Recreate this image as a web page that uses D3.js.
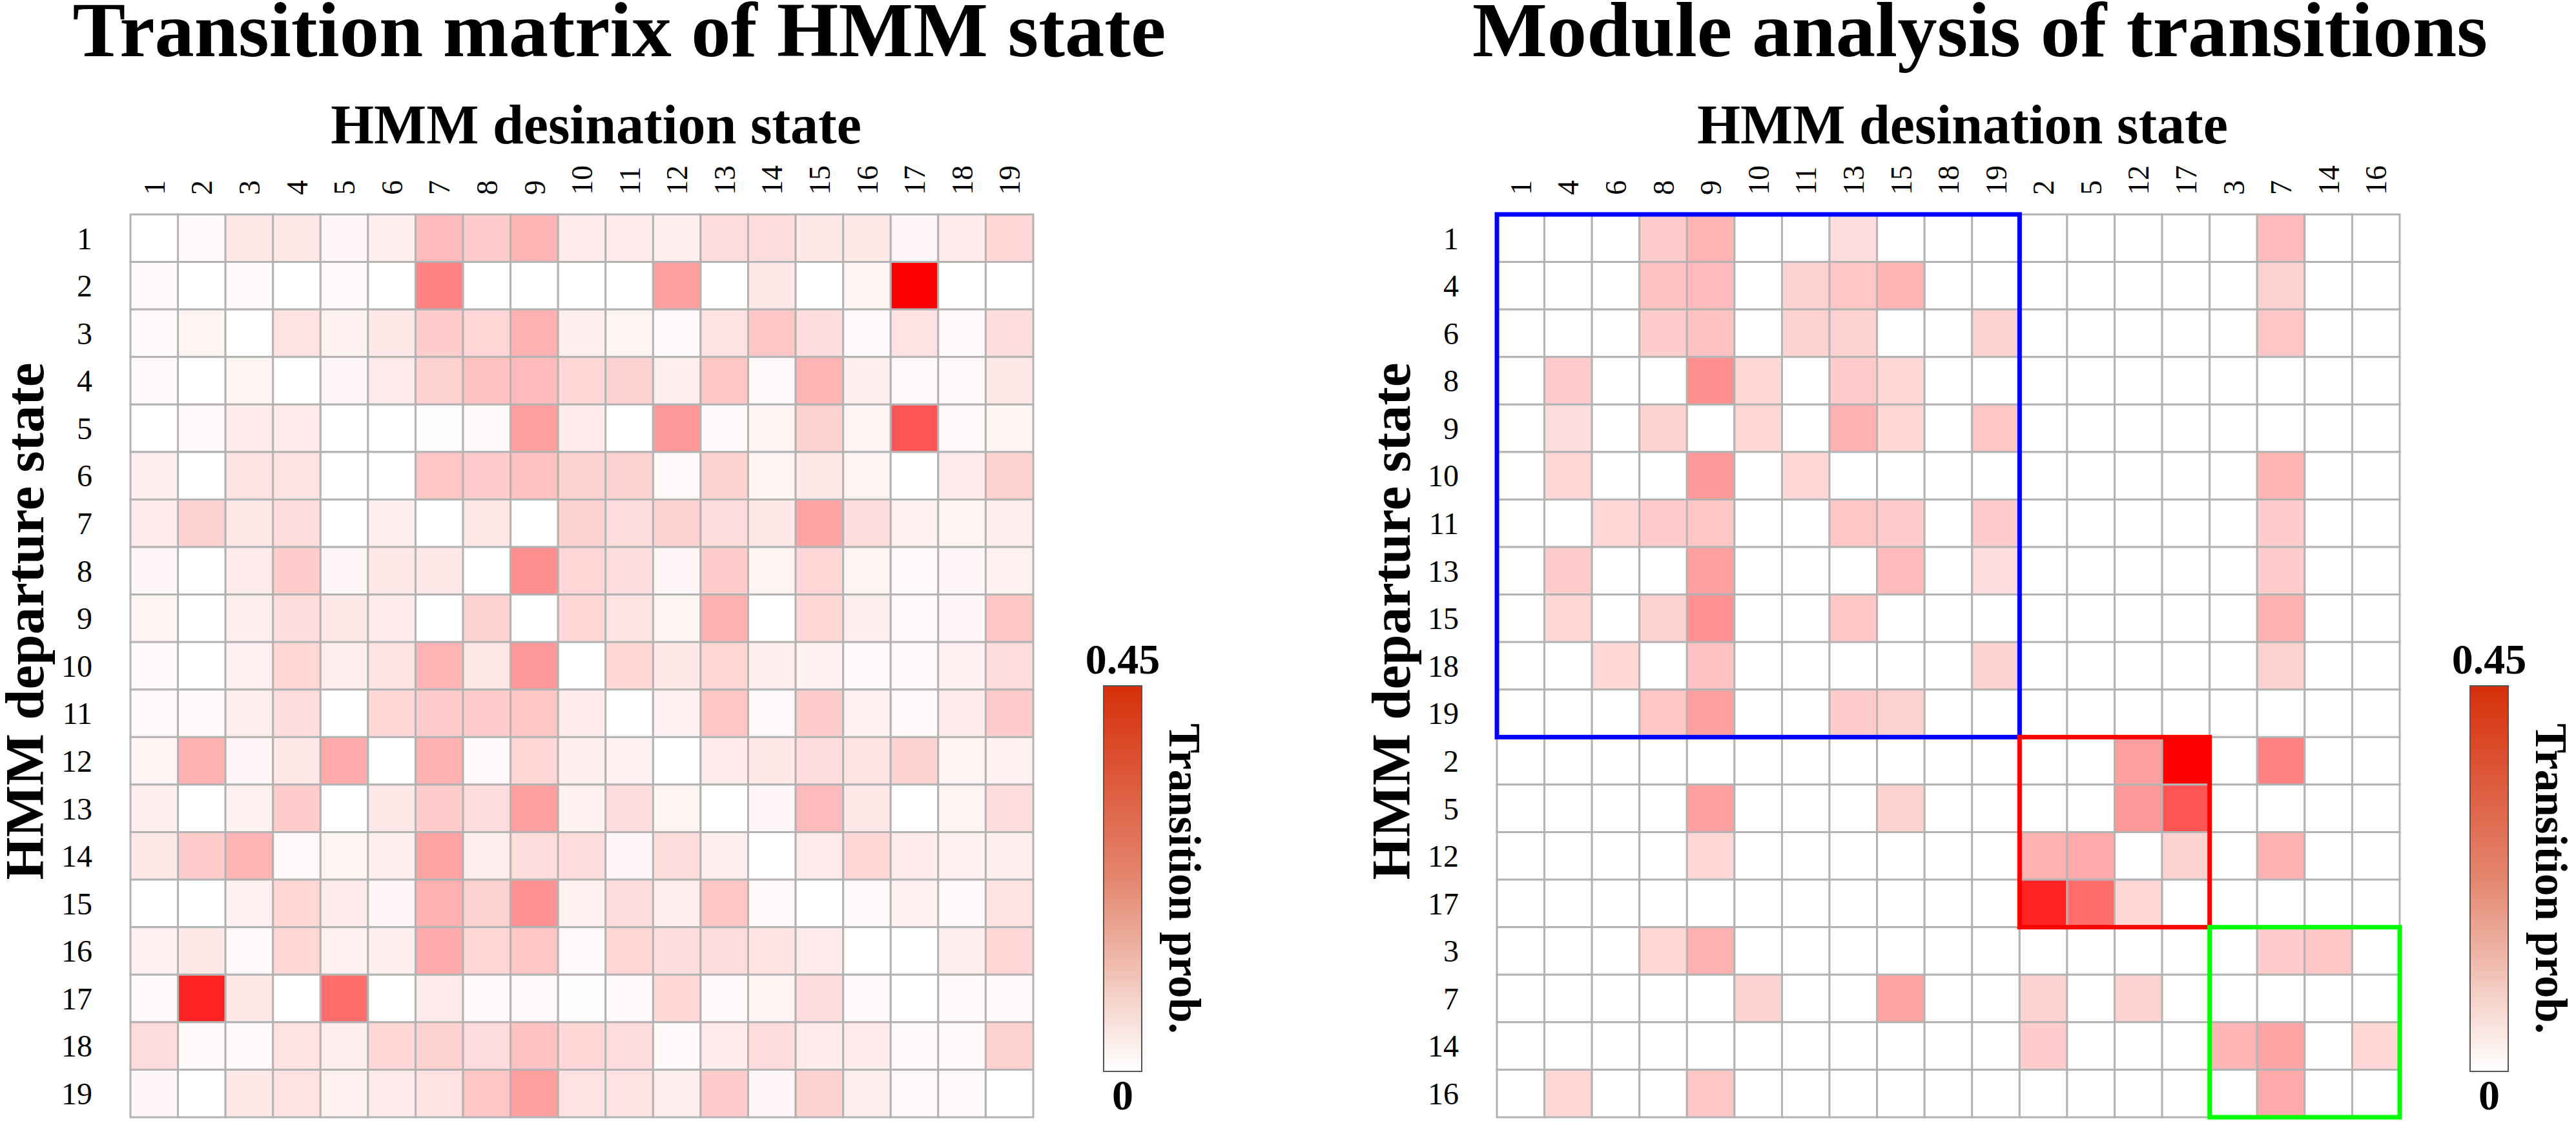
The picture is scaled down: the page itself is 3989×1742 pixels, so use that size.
<!DOCTYPE html>
<html>
<head>
<meta charset="utf-8">
<title>HMM transitions</title>
<script src="https://cdn.jsdelivr.net/npm/d3@7"></script>
<style>
  body { margin: 0; background: #fff; }
  svg { display: block; }
  .title, .axis-title, .cbar-label { font-family: "Liberation Serif", "Times New Roman", serif; font-weight: bold; }
  .tick-label { font-family: "Liberation Serif", "Times New Roman", serif; }
</style>
</head>
<body>
<div id="chart"></div>
<script>

// ---- data ----
var states = ["1","2","3","4","5","6","7","8","9","10","11","12","13","14","15","16","17","18","19"];

// rows = departure state, cols = destination state (states order)
var transProb = [
  [0, .01, .04, .04, .015, .03, .12, .09, .13, .035, .035, .03, .06, .06, .04, .04, .015, .035, .07],
  [.01, 0, .01, 0, .01, 0, .22, 0, 0, 0, 0, .17, 0, .04, 0, .02, .45, 0, 0],
  [.01, .02, 0, .05, .025, .04, .09, .07, .14, .03, .02, .01, .05, .10, .06, .01, .05, .01, .06],
  [.01, 0, .02, 0, .015, .035, .08, .11, .12, .07, .08, .03, .10, .01, .13, .03, .01, .01, .04],
  [0, .01, .035, .035, 0, 0, .005, .01, .17, .035, 0, .18, .01, .02, .08, .02, .30, .01, .02],
  [.03, 0, .05, .05, 0, 0, .10, .09, .11, .08, .08, .01, .08, .02, .04, .02, 0, .035, .08],
  [.035, .08, .04, .06, 0, .03, 0, .04, 0, .08, .06, .08, .06, .04, .16, .06, .025, .02, .03],
  [.015, 0, .035, .09, .015, .04, .04, 0, .20, .07, .06, .015, .09, .02, .07, .02, .01, .015, .025],
  [.02, 0, .03, .06, .04, .035, 0, .08, 0, .07, .05, .02, .14, 0, .07, .03, .01, .015, .10],
  [.01, 0, .025, .07, .03, .05, .13, .04, .18, 0, .07, .04, .07, .03, .025, .01, .01, .025, .06],
  [.01, .01, .03, .06, 0, .07, .09, .09, .10, .035, 0, .025, .10, .01, .09, .025, .01, .035, .09],
  [.02, .14, .015, .04, .15, 0, .14, .01, .07, .03, .025, 0, .035, .04, .06, .05, .08, .02, .025],
  [.03, 0, .025, .09, 0, .04, .09, .06, .17, .025, .06, .02, 0, .015, .12, .04, 0, .02, .06],
  [.04, .09, .13, .01, .02, .03, .16, .03, .06, .06, .015, .06, .03, 0, .035, .07, .035, .025, .03],
  [0, 0, .025, .07, .035, .015, .14, .08, .19, .025, .06, .03, .10, .01, 0, .01, .025, .01, .05],
  [.025, .04, .01, .07, .025, .03, .15, .07, .10, .01, .07, .06, .06, .05, .035, 0, 0, .03, .07],
  [.01, .39, .04, 0, .26, 0, .035, .01, .01, .005, .01, .07, .01, .02, .06, .01, 0, .01, .01],
  [.06, .01, .01, .05, .03, .07, .08, .06, .11, .07, .06, .01, .035, .06, .035, .035, .01, .01, .08],
  [.015, 0, .04, .05, .025, .035, .05, .10, .17, .05, .05, .03, .09, .015, .08, .03, .01, .01, 0]
];

// module analysis: states regrouped, only the retained transitions
var moduleOrder = ["1","4","6","8","9","10","11","13","15","18","19","2","5","12","17","3","7","14","16"];
var moduleGroups = [
  ["1","4","6","8","9","10","11","13","15","18","19"],
  ["2","5","12","17"],
  ["3","7","14","16"]
];
// rows / cols in moduleOrder
var moduleProb = [
  [0, 0, 0, .09, .13, 0, 0, .06, 0, 0, 0,   0, 0, 0, 0,        0, .12, 0, 0],
  [0, 0, 0, .11, .12, 0, .08, .10, .13, 0, 0,   0, 0, 0, 0,    0, .08, 0, 0],
  [0, 0, 0, .09, .11, 0, .08, .08, 0, 0, .08,   0, 0, 0, 0,    0, .10, 0, 0],
  [0, .09, 0, 0, .20, .07, 0, .09, .07, 0, 0,   0, 0, 0, 0,    0, 0, 0, 0],
  [0, .06, 0, .08, 0, .07, 0, .14, .07, 0, .10, 0, 0, 0, 0,    0, 0, 0, 0],
  [0, .07, 0, 0, .18, 0, .07, 0, 0, 0, 0,       0, 0, 0, 0,    0, .13, 0, 0],
  [0, 0, .07, .09, .10, 0, 0, .10, .09, 0, .09, 0, 0, 0, 0,    0, .09, 0, 0],
  [0, .09, 0, 0, .17, 0, 0, 0, .12, 0, .06,     0, 0, 0, 0,    0, .09, 0, 0],
  [0, .07, 0, .08, .19, 0, 0, .10, 0, 0, 0,     0, 0, 0, 0,    0, .14, 0, 0],
  [0, 0, .07, 0, .11, 0, 0, 0, 0, 0, .08,       0, 0, 0, 0,    0, .08, 0, 0],
  [0, 0, 0, .10, .17, 0, 0, .09, .08, 0, 0,     0, 0, 0, 0,    0, 0, 0, 0],
  [0, 0, 0, 0, 0, 0, 0, 0, 0, 0, 0,             0, 0, .17, .45, 0, .22, 0, 0],
  [0, 0, 0, 0, .17, 0, 0, 0, .08, 0, 0,         0, 0, .18, .30, 0, 0, 0, 0],
  [0, 0, 0, 0, .07, 0, 0, 0, 0, 0, 0,           .14, .15, 0, .08, 0, .14, 0, 0],
  [0, 0, 0, 0, 0, 0, 0, 0, 0, 0, 0,             .39, .26, .07, 0, 0, 0, 0, 0],
  [0, 0, 0, .07, .14, 0, 0, 0, 0, 0, 0,         0, 0, 0, 0,    0, .09, .10, 0],
  [0, 0, 0, 0, 0, .08, 0, 0, .16, 0, 0,         .08, 0, .08, 0, 0, 0, 0, 0],
  [0, 0, 0, 0, 0, 0, 0, 0, 0, 0, 0,             .09, 0, 0, 0,  .13, .16, 0, .07],
  [0, .07, 0, 0, .10, 0, 0, 0, 0, 0, 0,         0, 0, 0, 0,    0, .15, 0, 0]
];

var probDomain = [0, 0.45];
var cbarTicks = [0, 0.45];

// ---- layout / style ----
var WIDTH = 3989, HEIGHT = 1742;
var MATRIX_SIZE = 1398;
var MATRIX_TOP = 332;
var GRID_COLOR = "#b3b3b3";
var GROUP_COLORS = ["#0000ff", "#ff0000", "#00ff00"];

var color = d3.scaleLinear().domain(probDomain).range(["#ffffff", "#ff0000"]).clamp(true);

var svg = d3.select("#chart").append("svg")
  .attr("width", WIDTH)
  .attr("height", HEIGHT);

var defs = svg.append("defs");
var grad = defs.append("linearGradient")
  .attr("id", "cbarGrad")
  .attr("x1", 0).attr("y1", 1).attr("x2", 0).attr("y2", 0);
grad.append("stop").attr("offset", "0%").attr("stop-color", "#ffffff");
grad.append("stop").attr("offset", "50%").attr("stop-color", "#e4866f");
grad.append("stop").attr("offset", "100%").attr("stop-color", "#d62f0a");

function drawPanel(opts) {
  var g = svg.append("g").attr("transform", "translate(" + opts.left + ",0)");
  var band = d3.scaleBand().domain(opts.order).range([0, MATRIX_SIZE]);
  var y0 = MATRIX_TOP;
  var mid = MATRIX_SIZE / 2;

  // titles
  g.append("text")
    .attr("class", "title")
    .attr("x", mid + opts.titleShift)
    .attr("y", 87)
    .attr("text-anchor", "middle")
    .attr("font-size", 120)
    .attr("textLength", opts.titleWidth)
    .attr("lengthAdjust", "spacingAndGlyphs")
    .text(opts.title);

  g.append("text")
    .attr("class", "axis-title")
    .attr("x", mid + 22)
    .attr("y", 222)
    .attr("text-anchor", "middle")
    .attr("font-size", 86)
    .text("HMM desination state");

  g.append("text")
    .attr("class", "axis-title")
    .attr("transform", "translate(" + (67 - 202) + ",962) rotate(-90)")
    .attr("text-anchor", "middle")
    .attr("font-size", 85)
    .text("HMM departure state");

  // cells
  var cells = [];
  opts.values.forEach(function(row, i) {
    row.forEach(function(v, j) {
      cells.push({row: opts.order[i], col: opts.order[j], v: v});
    });
  });

  var m = g.append("g").attr("transform", "translate(0," + y0 + ")");
  m.selectAll("rect.cell").data(cells).enter()
    .append("rect")
    .attr("class", "cell")
    .attr("x", function(d) { return band(d.col); })
    .attr("y", function(d) { return band(d.row); })
    .attr("width", band.bandwidth())
    .attr("height", band.bandwidth())
    .attr("fill", function(d) { return color(d.v); })
    .attr("stroke", GRID_COLOR)
    .attr("stroke-width", 3);

  // column labels (rotated) and row labels
  g.selectAll("text.col-label").data(opts.order).enter()
    .append("text")
    .attr("class", "tick-label col-label")
    .attr("font-size", 46)
    .attr("dy", "0.35em")
    .attr("transform", function(d) {
      return "translate(" + (band(d) + band.bandwidth() / 2) + "," + (y0 - 30) + ") rotate(-90)";
    })
    .text(function(d) { return d; });

  g.selectAll("text.row-label").data(opts.order).enter()
    .append("text")
    .attr("class", "tick-label row-label")
    .attr("font-size", 48)
    .attr("text-anchor", "end")
    .attr("dy", "0.35em")
    .attr("x", -59)
    .attr("y", function(d) { return y0 + band(d) + band.bandwidth() / 2; })
    .text(function(d) { return d; });

  // module boxes
  if (opts.groups) {
    m.selectAll("rect.group").data(opts.groups).enter()
      .append("rect")
      .attr("class", "group")
      .attr("x", function(d) { return band(d[0]); })
      .attr("y", function(d) { return band(d[0]); })
      .attr("width", function(d) { return band(d[d.length - 1]) + band.bandwidth() - band(d[0]); })
      .attr("height", function(d) { return band(d[d.length - 1]) + band.bandwidth() - band(d[0]); })
      .attr("fill", "none")
      .attr("stroke", function(d, i) { return GROUP_COLORS[i]; })
      .attr("stroke-width", 7);
  }

  // colour bar
  var cbX = MATRIX_SIZE + 109, cbW = 59;
  var cbScale = d3.scaleLinear().domain(probDomain).range([1659, 1062]);
  g.append("rect")
    .attr("x", cbX)
    .attr("y", cbScale(probDomain[1]))
    .attr("width", cbW)
    .attr("height", cbScale(probDomain[0]) - cbScale(probDomain[1]))
    .attr("fill", "url(#cbarGrad)")
    .attr("stroke", "#555")
    .attr("stroke-width", 2);

  g.selectAll("text.cbar-label").data(cbarTicks).enter()
    .append("text")
    .attr("class", "cbar-label")
    .attr("font-size", 66)
    .attr("text-anchor", "middle")
    .attr("x", cbX + cbW / 2)
    .attr("y", function(d) { return d === 0 ? cbScale(d) + 59 : cbScale(d) - 19; })
    .text(function(d) { return d === 0 ? "0" : d3.format(".2f")(d); });

  g.append("text")
    .attr("class", "axis-title")
    .attr("font-size", 69)
    .attr("text-anchor", "middle")
    .attr("transform", "translate(" + (cbX + 102) + "," + ((cbScale(0) + cbScale(0.45)) / 2) + ") rotate(90)")
    .text("Transition prob.");
}

drawPanel({
  left: 202,
  order: states,
  values: transProb,
  title: "Transition matrix of HMM state",
  titleWidth: 1693,
  titleShift: 58
});

drawPanel({
  left: 2318,
  order: moduleOrder,
  values: moduleProb,
  groups: moduleGroups,
  title: "Module analysis of transitions",
  titleWidth: 1572,
  titleShift: 49
});

</script>
</body>
</html>
